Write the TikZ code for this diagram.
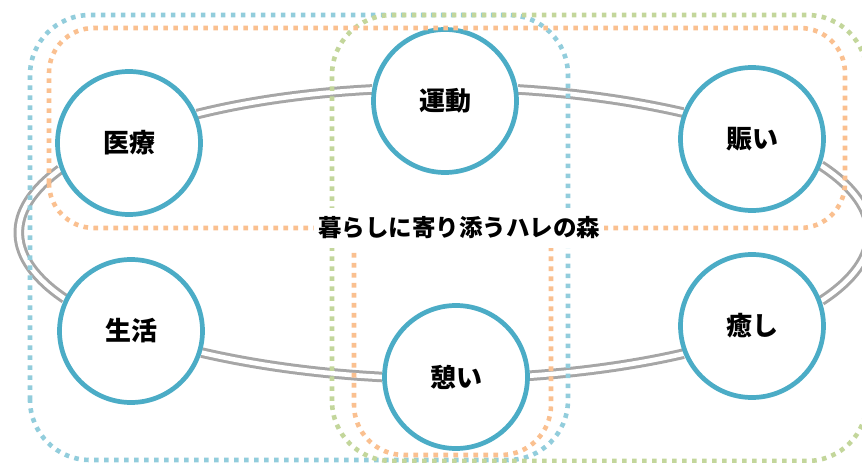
\documentclass[tikz,border=0pt]{standalone}
\usepackage{fontspec}
\newfontfamily\jp{Noto Sans CJK JP}
\usetikzlibrary{backgrounds}
\definecolor{ringblue}{HTML}{4BACC6}
\definecolor{linkgray}{HTML}{A6A6A6}
\definecolor{dotblue}{HTML}{92CDDC}
\definecolor{dotorange}{HTML}{FAC090}
\definecolor{dotgreen}{HTML}{C3D69B}
\tikzset{
  hub/.style={circle, draw=ringblue, line width=4.7pt, fill=white, minimum size=143pt,
    inner sep=0pt, font=\jp\bfseries\fontsize{26}{30}\selectfont},
  link/.style={draw=linkgray, double=white, line width=3pt, double distance=4.6pt},
  group/.style={line width=4.6pt, dash pattern=on 4.6pt off 5.4pt},
}
\begin{document}
\begin{tikzpicture}[x=1pt,y=1pt]
\useasboundingbox (0,0) rectangle (862,463);
% the six themes
\node[hub] (iryo) at (129,320) {医療};
\node[hub] (undo) at (445,362) {運動};
\node[hub] (nigiwai) at (752,324) {賑い};
\node[hub] (seikatsu) at (131,132) {生活};
\node[hub] (ikoi) at (456,86) {憩い};
\node[hub] (iyashi) at (752,137) {癒し};
% ring joining them
\begin{scope}[on background layer]
\draw[link] (iryo.23) to[out=14,in=183,looseness=.84] (undo.171);
\draw[link] (undo.9) to[out=-3.5,in=167,looseness=.84] (nigiwai.159);
\draw[link] (nigiwai.339) to[out=-33,in=33,looseness=1.46] (iyashi.20);
\draw[link] (iyashi.202) to[out=193,in=4,looseness=.84] (ikoi.1);
\draw[link] (ikoi.180) to[out=177,in=-13,looseness=.84] (seikatsu.343);
\draw[link] (seikatsu.154) to[out=146,in=216,looseness=1.4] (iryo.201);
\end{scope}
% dotted groups
\draw[group, dotblue, rounded corners=60pt] (30,3) rectangle (568,448);
\draw[group, dotgreen, rounded corners=60pt] (332,2) rectangle (867,448);
\draw[group, dotorange, rounded corners=45pt] (49,235) rectangle (845,435);
\draw[group, dotorange, rounded corners=50pt] (354,240) -- (354,8) -- (551,8) -- (551,240);
% title
\node[fill=white, inner xsep=4pt, inner ysep=9pt, font=\jp\bfseries\fontsize{23.5}{28}\selectfont]
  (title) at (459,235) {暮らしに寄り添うハレの森};
\end{tikzpicture}
\end{document}
